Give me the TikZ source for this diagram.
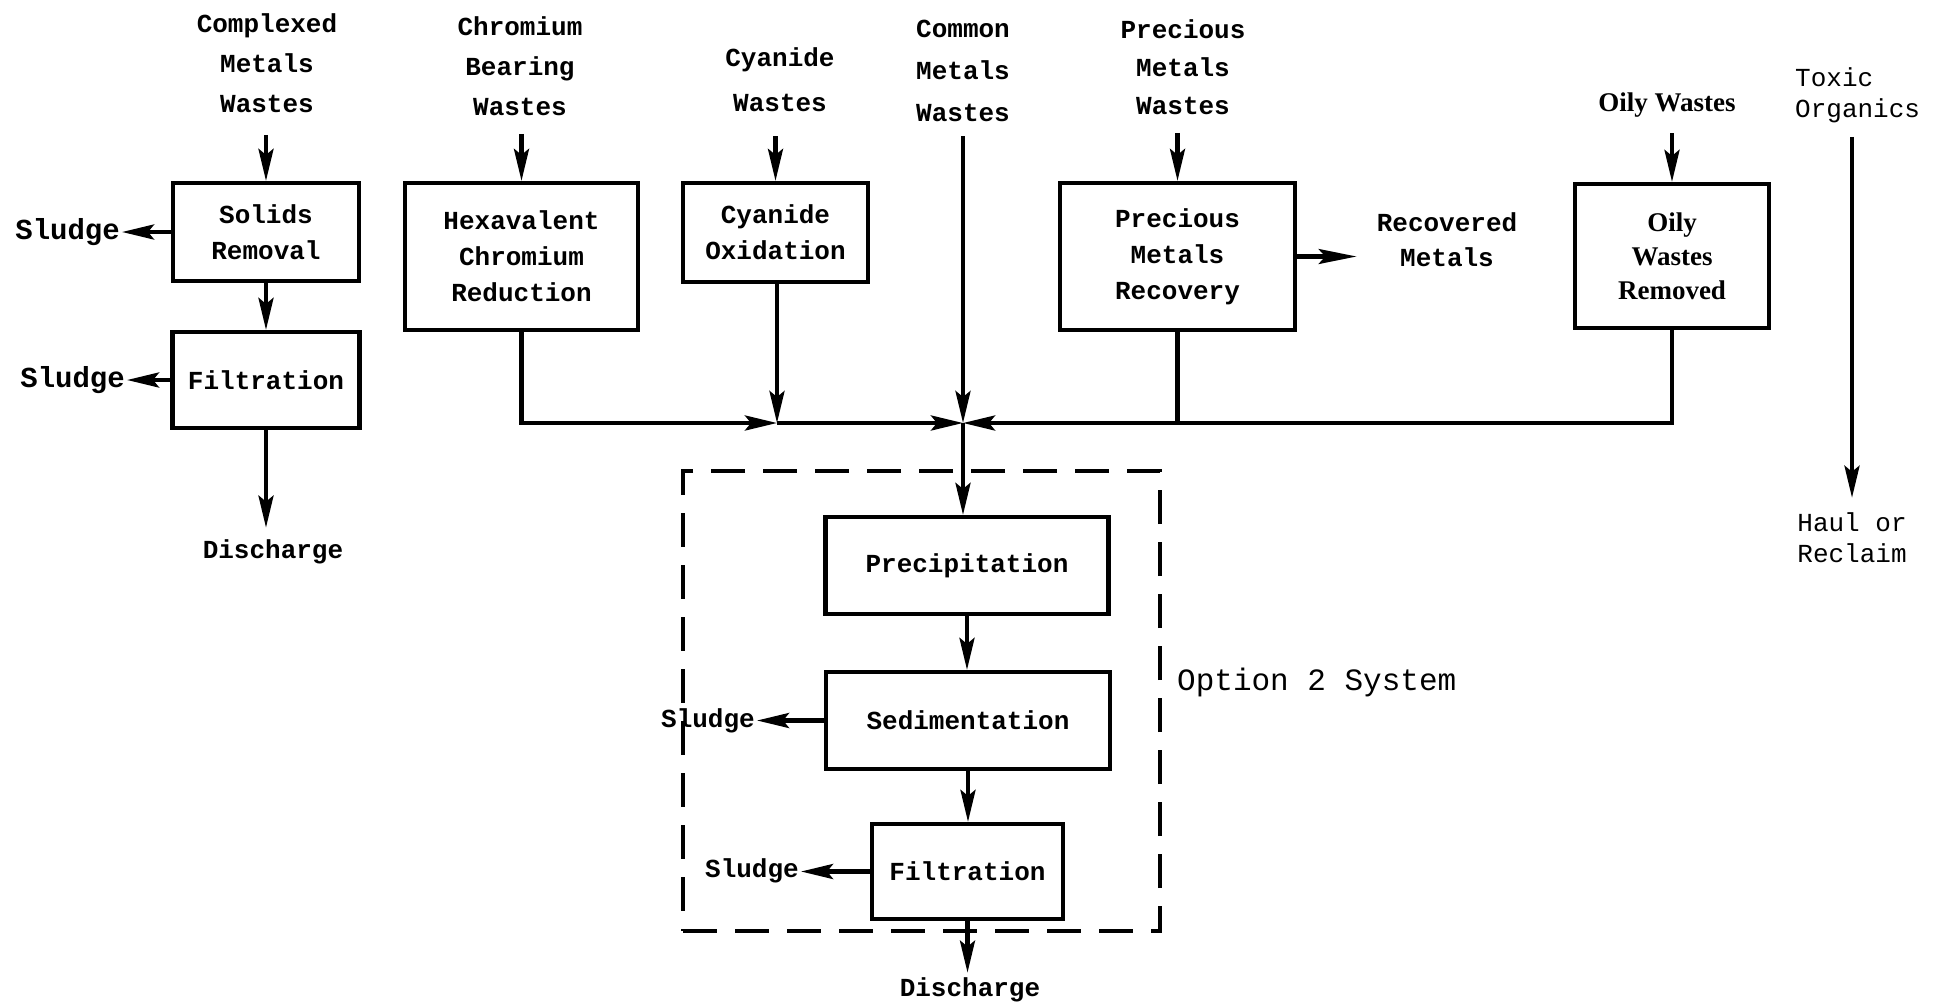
\documentclass[tikz,border=0pt]{standalone}
\usepackage{fontspec}
\usetikzlibrary{arrows.meta}
\newfontfamily\twfont{Liberation Mono}
\newfontfamily\tmsfont{Liberation Serif}
\begin{document}
\begin{tikzpicture}[x=1pt,y=-1pt,
  lbl/.style={font=\twfont\bfseries\fontsize{26}{40}\selectfont, align=center, inner sep=2pt},
  thinlbl/.style={font=\twfont\fontsize{26}{31}\selectfont, inner sep=2pt},
  sludge/.style={font=\twfont\bfseries\fontsize{29}{34}\selectfont, inner sep=2pt, anchor=east},
  box/.style={draw, line width=4.2pt, font=\twfont\bfseries\fontsize{26}{36}\selectfont, align=center, inner sep=0pt},
  flow/.style={line width=4.2pt},
  arr/.style={flow, -{Stealth[length=32pt,width=15pt,inset=6pt]}},
  dashbox/.style={draw, line width=4pt, dash pattern=on 34pt off 18pt},
]
\fill[white] (0,0) rectangle (1936,1005);
\useasboundingbox (0,0) rectangle (1936,1005);

% source labels
\node[lbl] (cmw) at (267,63) {Complexed\\Metals\\Wastes};
\node[lbl] (cbw) at (520,66) {Chromium\\Bearing\\Wastes};
\node[lbl, font=\twfont\bfseries\fontsize{26}{45}\selectfont] (cw) at (780,80) {Cyanide\\Wastes};
\node[lbl, font=\twfont\bfseries\fontsize{26}{42}\selectfont] (cmn) at (963,71) {Common\\Metals\\Wastes};
\node[lbl, font=\twfont\bfseries\fontsize{26}{38}\selectfont] (pmw) at (1183,67) {Precious\\Metals\\Wastes};
\node[font=\tmsfont\bfseries\fontsize{27}{32}\selectfont, inner sep=2pt] (ow) at (1667,105) {Oily Wastes};
\node[thinlbl, align=left, anchor=west] (tox) at (1793,95) {Toxic\\Organics};
\node[thinlbl, align=center] (haul) at (1852,538) {Haul or\\Reclaim};

% boxes
\node[box, minimum width=186pt, minimum height=98pt] (solids) at (266,232) {Solids\\Removal};
\node[box, minimum width=187pt, minimum height=96pt] (filt1) at (266,380) {Filtration};
\node[box, minimum width=233pt, minimum height=147pt] (hex) at (521.5,256.5) {Hexavalent\\Chromium\\Reduction};
\node[box, minimum width=185pt, minimum height=99pt] (cyox) at (775.5,232.5) {Cyanide\\Oxidation};
\node[box, minimum width=235pt, minimum height=147pt] (pmr) at (1177.5,256.5) {Precious\\Metals\\Recovery};
\node[box, font=\tmsfont\bfseries\fontsize{27}{34}\selectfont, minimum width=194pt, minimum height=144pt] (oily) at (1672,256) {Oily\\Wastes\\Removed};
\node[box, minimum width=283pt, minimum height=97pt] (prec) at (967,565.5) {Precipitation};
\node[box, minimum width=284pt, minimum height=97pt] (sed) at (968,720.5) {Sedimentation};
\node[box, minimum width=191pt, minimum height=95pt] (filt2) at (967.5,871.5) {Filtration};
\node[dashbox, minimum width=477pt, minimum height=460pt] (opt) at (921.5,701) {};
\node[font=\twfont\fontsize{31}{36}\selectfont, inner sep=2pt, anchor=west] (optl) at (1175,682) {Option 2 System};

% outputs
\node[lbl, font=\twfont\bfseries\fontsize{26}{35}\selectfont] (rec) at (1447,240) {Recovered\\Metals};
\node[lbl] (dis1) at (273,552) {Discharge};
\node[lbl] (dis2) at (970,990) {Discharge};
\node[sludge] (s1) at (122,232) {Sludge};
\node[sludge] (s2) at (127,380) {Sludge};
\node[lbl, anchor=east] (s3) at (757,721) {Sludge};
\node[lbl, anchor=east] (s4) at (801,871) {Sludge};

% junctions
\coordinate (j1) at (777,423);
\coordinate (j2) at (963,423);

% connectors
\draw[arr, shorten <=20pt] (solids.north |- cmw.south) -- (solids.north);
\draw[arr] (solids.south) -- (filt1.north);
\draw[arr] (solids.west) -- (solids.west -| s1.east);
\draw[arr] (filt1.west) -- (filt1.west -| s2.east);
\draw[arr, shorten >=10pt] (filt1.south) -- (filt1.south |- dis1.north);

\draw[arr, shorten <=16pt] (hex.north |- cbw.south) -- (hex.north);
\draw[arr, shorten <=22pt] (cyox.north |- cw.south) -- (cyox.north);
\draw[arr, shorten <=16pt] (pmr.north |- pmw.south) -- (pmr.north);
\draw[arr, shorten <=14pt] (oily.north |- ow.south) -- (oily.north);

\draw[arr] (hex.south) |- (j1);
\draw[arr] (cyox.south -| j1) -- (j1);
\draw[arr] (j1) -- (j2);
\draw[arr, shorten <=12pt] (cmn.south -| j2) -- (j2);
\draw[flow] (pmr.south) -- (pmr.south |- j2);
\draw[arr] (oily.south) |- (j2);
\draw[arr] (j2) -- (prec.north -| j2);
\draw[arr, -{Stealth[length=38pt,width=15pt,inset=7pt]}, shorten >=18pt] (pmr.east) -- (rec.west |- pmr.east);

\draw[arr] (prec.south) -- (prec.south |- sed.north);
\draw[arr] (sed.south) -- (sed.south |- filt2.north);
\draw[arr] (sed.west) -- (sed.west -| s3.east);
\draw[arr] (filt2.west) -- (filt2.west -| s4.east);
\draw[arr, shorten >=3pt] (filt2.south) -- (filt2.south |- dis2.north);

\draw[arr, shorten <=12pt, shorten >=13pt] (haul.north |- tox.south) -- (haul.north);
\end{tikzpicture}
\end{document}
